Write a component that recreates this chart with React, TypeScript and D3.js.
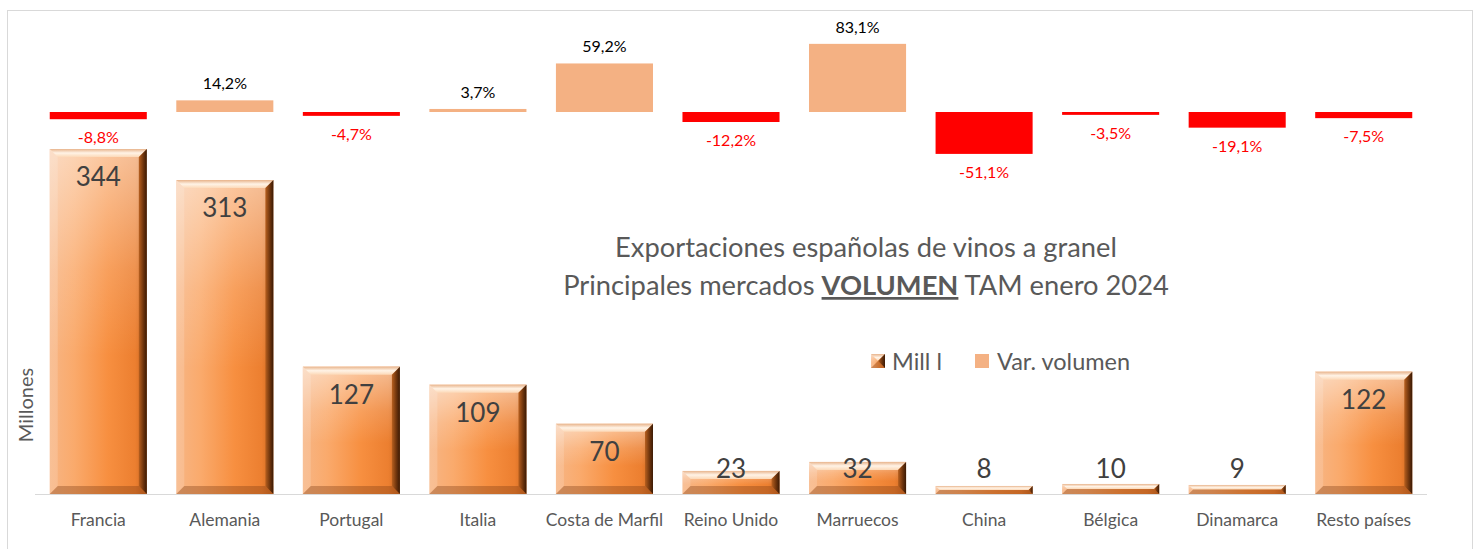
import React from 'react';
import * as d3 from 'd3';

const categories = ['Francia', 'Alemania', 'Portugal', 'Italia', 'Costa de Marfil', 'Reino Unido', 'Marruecos', 'China', 'Bélgica', 'Dinamarca', 'Resto países'];
const millones = [344, 313, 127, 109, 70, 23, 32, 8, 10, 9, 122];
const variacion = [-8.8, 14.2, -4.7, 3.7, 59.2, -12.2, 83.1, -51.1, -3.5, -19.1, -7.5];

const W = 1479, H = 549;
const FONT = 'Lato, "Open Sans", sans-serif';
const GREY = '#595959';

export default function App() {
  const x = d3.scaleBand().domain(categories).range([35, 1427]).paddingInner(0.233).paddingOuter(0.1165);
  // main axis (millions of litres)
  const y = d3.scaleLinear().domain([0, 350]).range([494, 143]);
  // secondary axis (% change)
  const y2 = d3.scaleLinear().domain([-100, 100]).range([194, 30]);
  const bw = x.bandwidth();
  const fmt = (v: number) => d3.format('.1f')(v).replace('.', ',').replace('\u2212', '-') + '%';

  const bevelBar = (x0: number, y0: number, w: number, h: number, key: string) => {
    const b = Math.min(8, h / 2, w / 2);
    const x1 = x0 + w, y1 = y0 + h;
    return (
      <g key={key}>
        <rect x={x0} y={y0} width={w} height={h} fill="url(#bodyGrad)" />
        <rect x={x0} y={y0} width={w} height={h} fill="url(#shineGrad)" />
        <polygon points={`${x0},${y0} ${x1},${y0} ${x1 - b},${y0 + b} ${x0 + b},${y0 + b}`} fill="url(#topBevel)" />
        <polygon points={`${x0},${y0} ${x0 + b},${y0 + b} ${x0 + b},${y1 - b} ${x0},${y1}`} fill="#fff" opacity={0.15} />
        <polygon points={`${x1},${y0} ${x1},${y1} ${x1 - b},${y1 - b} ${x1 - b},${y0 + b}`} fill="url(#rightBevel)" />
        <polygon points={`${x0},${y1} ${x0 + b},${y1 - b} ${x1 - b},${y1 - b} ${x1},${y1}`} fill="#7a3a10" opacity={0.35} />
      </g>
    );
  };

  return (
    <div style={{ position: 'absolute', left: 0, top: 0 }}>
      <svg width={W} height={H} style={{ display: 'block' }} fontFamily={FONT}>
        <defs>
          <linearGradient id="bodyGrad" x1="0" y1="0" x2="1" y2="0">
            <stop offset="0%" stopColor="#F7B584" />
            <stop offset="25%" stopColor="#FAAA6C" />
            <stop offset="60%" stopColor="#F78F40" />
            <stop offset="88%" stopColor="#EC7F30" />
            <stop offset="100%" stopColor="#C86620" />
          </linearGradient>
          <linearGradient id="rightBevel" x1="0" y1="0" x2="1" y2="0">
            <stop offset="0%" stopColor="#B8601F" />
            <stop offset="60%" stopColor="#6A320C" />
            <stop offset="100%" stopColor="#3A1A05" />
          </linearGradient>
          <linearGradient id="shineGrad" x1="0" y1="0" x2="0" y2="1">
            <stop offset="0%" stopColor="#fff" stopOpacity={0.5} />
            <stop offset="35%" stopColor="#fff" stopOpacity={0.15} />
            <stop offset="60%" stopColor="#fff" stopOpacity={0} />
          </linearGradient>
          <linearGradient id="topBevel" x1="0" y1="0" x2="0" y2="1">
            <stop offset="0%" stopColor="#E8B48C" />
            <stop offset="50%" stopColor="#FFF3E6" />
            <stop offset="100%" stopColor="#FCD9B8" />
          </linearGradient>
        </defs>

        <rect x={7.5} y={10.5} width={1465} height={560} fill="#fff" stroke="#d9d9d9" strokeWidth={1} />

        {/* secondary series: variación */}
        {categories.map((c, i) => {
          const v = variacion[i];
          const top = y2(Math.max(0, v));
          const bot = y2(Math.min(0, v));
          const cx = x(c)! + bw / 2;
          return (
            <g key={'v' + c}>
              <rect x={x(c)} y={top} width={bw} height={bot - top} fill={v < 0 ? '#FF0000' : '#F4B183'} />
              <text x={cx} y={v < 0 ? bot + 24 : top - 11} textAnchor="middle" fontSize={16} fill={v < 0 ? '#FF0000' : '#000'}>
                {fmt(v)}
              </text>
            </g>
          );
        })}

        {/* main series: millones de litros */}
        {categories.map((c, i) => bevelBar(x(c)!, y(millones[i]), bw, y(0) - y(millones[i]), 'b' + c))}
        {categories.map((c, i) => (
          <text key={'l' + c} x={x(c)! + bw / 2} y={Math.min(y(millones[i]) + 37, 478)} textAnchor="middle" fontSize={26} fill="#404040">
            {millones[i]}
          </text>
        ))}

        <line x1={x.range()[0]} x2={x.range()[1]} y1={494.5} y2={494.5} stroke="#d9d9d9" strokeWidth={1} />

        {categories.map(c => (
          <text key={'c' + c} x={x(c)! + bw / 2} y={526} textAnchor="middle" fontSize={17.5} fill={GREY}>{c}</text>
        ))}

        <text transform="translate(33,405) rotate(-90)" textAnchor="middle" fontSize={20} fill={GREY}>Millones</text>

        <text x={866} y={257} textAnchor="middle" fontSize={27.3} fill={GREY}>Exportaciones españolas de vinos a granel</text>
        <text x={866} y={295} textAnchor="middle" fontSize={27.3} fill={GREY}>
          Principales mercados <tspan fontWeight="bold" style={{ textDecoration: 'underline' }}>VOLUMEN</tspan> TAM enero 2024
        </text>

        {/* legend */}
        {bevelBar(871, 354, 14, 14, 'legend')}
        <text x={892} y={370} fontSize={23.5} fill={GREY}>Mill l</text>
        <rect x={975} y={354} width={14} height={14} fill="#F4B183" />
        <text x={997} y={370} fontSize={23.5} fill={GREY}>Var. volumen</text>
      </svg>
    </div>
  );
}
